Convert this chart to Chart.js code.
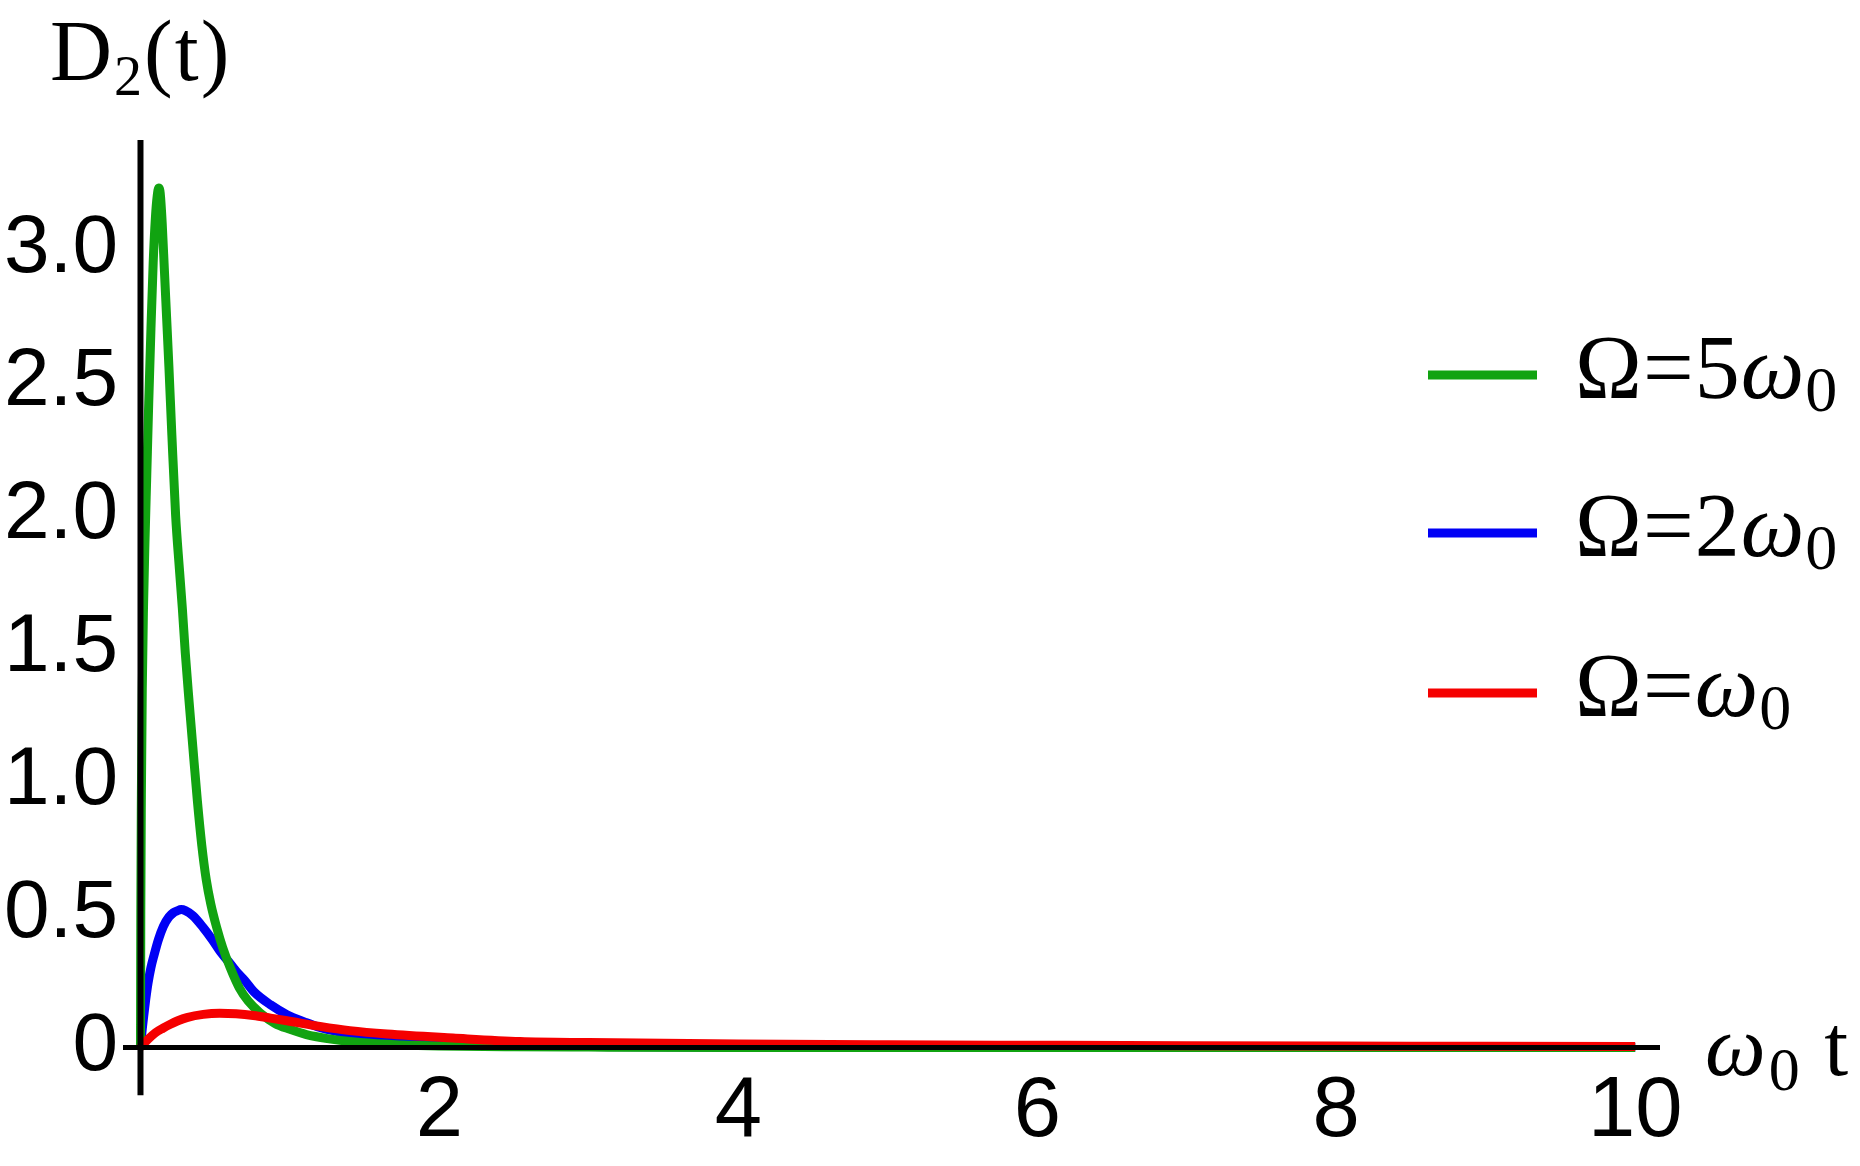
<!DOCTYPE html>
<html>
<head>
<meta charset="utf-8">
<script src="https://cdn.jsdelivr.net/npm/chart.js@4.4.1/dist/chart.umd.min.js"></script>
<style>
  body { margin: 0; background: #fff; }
  #wrap { width: 1860px; height: 1166px; }
</style>
</head>
<body>
<div id="wrap"><canvas id="chart" width="1860" height="1166"></canvas></div>
<script>
// values
const omega5Time = [0, 0.002, 0.006, 0.012, 0.02, 0.03, 0.042, 0.055, 0.07, 0.085, 0.1, 0.112, 0.122, 0.132, 0.145, 0.16, 0.175, 0.19, 0.21, 0.235, 0.26, 0.28, 0.3, 0.325, 0.35, 0.38, 0.41, 0.44, 0.47, 0.51, 0.55, 0.6, 0.66, 0.72, 0.8, 0.9, 1.0, 1.11, 1.25, 1.47, 1.75, 2, 2.5, 3, 4, 6, 8, 10];
const omega5D2   = [0, 0.5, 0.95, 1.35, 1.65, 1.9, 2.15, 2.42, 2.7, 2.95, 3.12, 3.2, 3.23, 3.21, 3.1, 2.92, 2.74, 2.56, 2.3, 2.0, 1.8, 1.65, 1.48, 1.3, 1.13, 0.93, 0.76, 0.63, 0.54, 0.45, 0.375, 0.3, 0.225, 0.175, 0.13, 0.09, 0.068, 0.048, 0.033, 0.018, 0.009, 0.005, 0.002, 0.001, 0, 0, 0, 0];

const omega2Time = [0, 0.005, 0.012, 0.022, 0.035, 0.05, 0.07, 0.09, 0.12, 0.153, 0.19, 0.22, 0.245, 0.272, 0.3, 0.35, 0.42, 0.48, 0.534, 0.6, 0.65, 0.7, 0.757, 0.87, 0.98, 1.1, 1.2, 1.4, 1.65, 2.09, 2.5, 3, 4, 5, 6, 8, 10];
const omega2D2   = [0, 0.03, 0.07, 0.12, 0.18, 0.24, 0.3, 0.345, 0.405, 0.455, 0.49, 0.506, 0.513, 0.518, 0.514, 0.495, 0.45, 0.405, 0.36, 0.315, 0.28, 0.25, 0.21, 0.16, 0.123, 0.095, 0.075, 0.05, 0.03, 0.012, 0.006, 0.003, 0.001, 0, 0, 0, 0];

const omega1Time = [0, 0.05, 0.1, 0.15, 0.2, 0.25, 0.31, 0.42, 0.53, 0.64, 0.755, 0.87, 0.98, 1.2, 1.4, 1.65, 2.09, 2.54, 3, 4, 5, 6, 7, 8, 9, 10];
const omega1D2   = [0, 0.03, 0.055, 0.072, 0.087, 0.1, 0.112, 0.124, 0.128, 0.126, 0.12, 0.11, 0.1, 0.079, 0.063, 0.05, 0.035, 0.022, 0.018, 0.013, 0.01, 0.008, 0.006, 0.005, 0.004, 0.003];

const seriesLabels = ['Ω=5ω_0', 'Ω=2ω_0', 'Ω=ω_0'];
const seriesColors = ['rgb(17,163,17)', 'rgb(0,0,245)', 'rgb(245,0,0)'];

const xTickValues = [2, 4, 6, 8, 10];
const xTickLabels = ['2', '4', '6', '8', '10'];
const yTickValues = [0, 0.5, 1, 1.5, 2, 2.5, 3];
const yTickLabels = ['0', '0.5', '1.0', '1.5', '2.0', '2.5', '3.0'];

// how far the drawn axis lines reach
const xAxisRange = [-0.117, 10.166];
const yAxisRange = [-0.18, 3.41];

const yTitle = 'D_2(t)';
const xTitle = 'ω_0 t';

const toPoints = (xs, ys) => xs.map((x, i) => ({ x: x, y: ys[i] }));

const makeSet = (i, xs, ys, order) => ({
    label: seriesLabels[i],
    data: toPoints(xs, ys),
    borderColor: seriesColors[i],
    backgroundColor: seriesColors[i],
    borderWidth: 9,
    pointRadius: 0,
    fill: false,
    cubicInterpolationMode: 'monotone',
    borderJoinStyle: 'round',
    order: order
});

// draws text with "_x" as a subscript and ω in italic
function drawRich(ctx, text, x, y, size, subSize, subDrop, gap) {
    let cx = x;
    for (let i = 0; i < text.length; i++) {
        let ch = text[i];
        let sub = false;
        if (ch === '_') { i++; ch = text[i]; sub = true; }
        if (sub) {
            ctx.font = subSize + 'px "Liberation Serif"';
            ctx.fillText(ch, cx, y + subDrop);
        } else {
            ctx.font = (ch === 'ω' ? 'italic ' : '') + size + 'px "Liberation Serif"';
            ctx.fillText(ch, cx, y);
        }
        cx += ctx.measureText(ch).width + (ch === ' ' ? 0 : gap);
    }
}

const extras = {
    id: 'extras',
    afterDatasetsDraw(chart) {
        const ctx = chart.ctx;
        const xs = chart.scales.x;
        const ys = chart.scales.y;
        const x0 = xs.getPixelForValue(0);
        const y0 = ys.getPixelForValue(0);
        ctx.save();
        ctx.strokeStyle = '#000';
        ctx.lineWidth = 6;
        ctx.beginPath();
        ctx.moveTo(x0, ys.getPixelForValue(yAxisRange[1]));
        ctx.lineTo(x0, ys.getPixelForValue(yAxisRange[0]));
        ctx.stroke();
        ctx.lineWidth = 5;
        ctx.beginPath();
        ctx.moveTo(xs.getPixelForValue(xAxisRange[0]), y0);
        ctx.lineTo(xs.getPixelForValue(xAxisRange[1]), y0);
        ctx.stroke();
        ctx.restore();
    },
    afterDraw(chart) {
        const ctx = chart.ctx;
        ctx.save();
        ctx.fillStyle = '#000';
        ctx.textBaseline = 'alphabetic';
        ctx.textAlign = 'left';

        // axis titles
        drawRich(ctx, yTitle, 50, 80, 86, 56, 15, 2);
        drawRich(ctx, xTitle, 1705, 1075, 86, 62, 15, 3);

        // legend
        const rows = [375, 533, 693];
        chart.data.datasets.forEach((ds, i) => {
            ctx.strokeStyle = ds.borderColor;
            ctx.lineWidth = 9;
            ctx.beginPath();
            ctx.moveTo(1428, rows[i]);
            ctx.lineTo(1537, rows[i]);
            ctx.stroke();
            ctx.fillStyle = '#000';
            drawRich(ctx, ds.label, 1575, rows[i] + 23, 90, 64, 13, 1);
        });
        ctx.restore();
    }
};

const tickFont = '"Liberation Sans", Arial, sans-serif';

new Chart(document.getElementById('chart'), {
    type: 'line',
    data: {
        datasets: [
            makeSet(0, omega5Time, omega5D2, 2),
            makeSet(1, omega2Time, omega2D2, 3),
            makeSet(2, omega1Time, omega1D2, 1)
        ]
    },
    options: {
        responsive: false,
        devicePixelRatio: 1,
        animation: false,
        layout: { padding: { top: 140, right: 200, left: 0, bottom: 0 } },
        plugins: { legend: { display: false }, tooltip: { enabled: false } },
        scales: {
            x: {
                type: 'linear',
                min: xAxisRange[0],
                max: xAxisRange[1],
                grid: { display: false, drawTicks: false },
                border: { display: false },
                afterBuildTicks: (s) => { s.ticks = xTickValues.map(v => ({ value: v })); },
                afterFit: (s) => { s.height = 92; },
                ticks: {
                    color: '#000',
                    font: { family: tickFont, size: 85 },
                    padding: -12,
                    maxRotation: 0,
                    autoSkip: false,
                    callback: (v, i) => xTickLabels[i]
                }
            },
            y: {
                type: 'linear',
                min: -0.1,
                max: yAxisRange[1],
                grid: { display: false, drawTicks: false },
                border: { display: false },
                afterBuildTicks: (s) => { s.ticks = yTickValues.map(v => ({ value: v })); },
                afterFit: (s) => { s.width = 123; },
                ticks: {
                    color: '#000',
                    font: { family: tickFont, size: 82 },
                    padding: 5,
                    autoSkip: false,
                    callback: (v, i) => yTickLabels[i]
                }
            }
        }
    },
    plugins: [extras]
});
</script>
</body>
</html>
